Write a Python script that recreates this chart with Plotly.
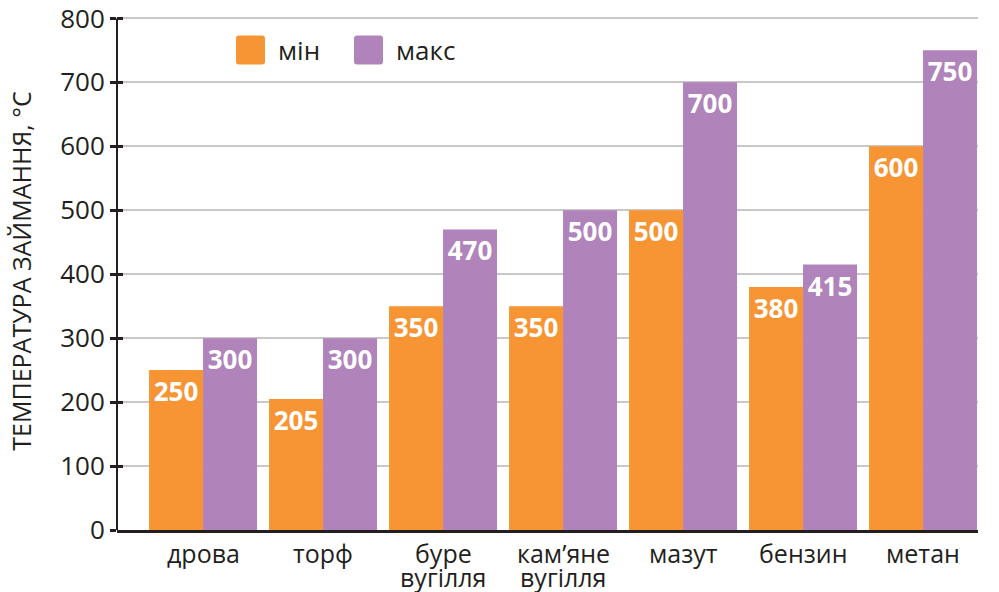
import plotly.graph_objects as go

# Ignition temperature ranges of common fuels, °C
categories = ["дрова", "торф", "буре<br>вугілля", "кам’яне<br>вугілля", "мазут", "бензин", "метан"]
series_names = ["мін", "макс"]
min_values = [250, 205, 350, 350, 500, 380, 600]
max_values = [300, 300, 470, 500, 700, 415, 750]
y_ticks = [0, 100, 200, 300, 400, 500, 600, 700, 800]

ORANGE = "#F79433"
PURPLE = "#B083BA"
INK = "#231F20"
GRID = "#C8C8C8"
FONT = "Open Sans"

W, H = 999, 592
ML, MR, MT, MB = 117, 21, 12, 62
PW, PH = W - ML - MR, H - MT - MB
Y_MAX = 810

fig = go.Figure()
for name, vals, color in [(series_names[0], min_values, ORANGE),
                          (series_names[1], max_values, PURPLE)]:
    fig.add_trace(go.Bar(
        x=categories, y=vals, name=name,
        marker=dict(color=color, line=dict(width=0)),
        text=[str(v) for v in vals],
        textposition="inside", insidetextanchor="end",
        textfont=dict(family=FONT, size=26, color="white", weight="bold"),
        showlegend=False, cliponaxis=False,
    ))

# Invisible helper so the inner half of the y ticks can be drawn
fig.add_trace(go.Scatter(x=[categories[0]], y=[0], yaxis="y2", mode="markers",
                         marker=dict(opacity=0), showlegend=False, hoverinfo="skip"))

fig.update_layout(
    width=W, height=H,
    margin=dict(l=ML, r=MR, t=MT, b=MB),
    paper_bgcolor="white", plot_bgcolor="white",
    barmode="group", bargap=0.1, bargroupgap=0,
    font=dict(family=FONT, size=26, color=INK),
    uniformtext=dict(minsize=20, mode="show"),
    xaxis=dict(
        range=[-0.717, 6.458], showgrid=False, ticks="", showticklabels=False,
        showline=True, linecolor=INK, linewidth=3,
        automargin=False, fixedrange=True,
    ),
    yaxis=dict(
        range=[0, Y_MAX], tickvals=y_ticks, showgrid=True, gridcolor=GRID, gridwidth=2,
        showline=False, ticklabeloverflow="allow",
        ticks="outside", ticklen=6, tickwidth=3, tickcolor=INK,
        tickfont=dict(family=FONT, size=26, color=INK),
        title=dict(text="ТЕМПЕРАТУРА ЗАЙМАННЯ, °С", standoff=21,
                   font=dict(family=FONT, size=25, color=INK)),
        zeroline=False, automargin=False, fixedrange=True,
    ),
    yaxis2=dict(
        range=[0, Y_MAX], tickvals=y_ticks, overlaying="y", side="left",
        ticks="inside", ticklen=6, tickwidth=3, tickcolor=INK,
        showticklabels=False, showgrid=False, zeroline=False, showline=False,
        fixedrange=True,
    ),
)

# Vertical axis line from 0 up to the top tick
fig.add_shape(type="line", xref="x domain", yref="y", x0=0, x1=0, y0=0, y1=y_ticks[-1],
              line=dict(color=INK, width=2), layer="above")

# Category labels, one annotation per line for a tight line spacing
for cat in categories:
    for i, line in enumerate(cat.split("<br>")):
        fig.add_annotation(x=cat, y=0, xref="x", yref="y", text=line, showarrow=False,
                           xanchor="center", yanchor="middle", yshift=-23 - 24 * i,
                           font=dict(family=FONT, size=25, color=INK))

# Legend: large rounded swatches with labels
def rounded_rect(x0, y0, x1, y1, r):
    return (f"M {x0 + r} {y0} L {x1 - r} {y0} Q {x1} {y0} {x1} {y0 + r} "
            f"L {x1} {y1 - r} Q {x1} {y1} {x1 - r} {y1} L {x0 + r} {y1} "
            f"Q {x0} {y1} {x0} {y1 - r} L {x0} {y0 + r} Q {x0} {y0} {x0 + r} {y0} Z")

legend_cy = (H - MB - 50) / PH
legend_items = [(series_names[0], ORANGE, 236), (series_names[1], PURPLE, 354)]
for name, color, px in legend_items:
    fig.add_shape(type="path", xref="x domain", yref="paper", xsizemode="pixel",
                  ysizemode="pixel", xanchor=(px + 14.5 - ML) / PW, yanchor=legend_cy,
                  path=rounded_rect(-14.5, -14.5, 14.5, 14.5, 3),
                  fillcolor=color, line=dict(width=0), layer="above")
    fig.add_annotation(xref="x domain", yref="paper", x=(px + 40 - ML) / PW,
                       y=legend_cy, text=name, showarrow=False,
                       xanchor="left", yanchor="middle",
                       font=dict(family=FONT, size=26, color=INK))

fig.write_html("out.html")
